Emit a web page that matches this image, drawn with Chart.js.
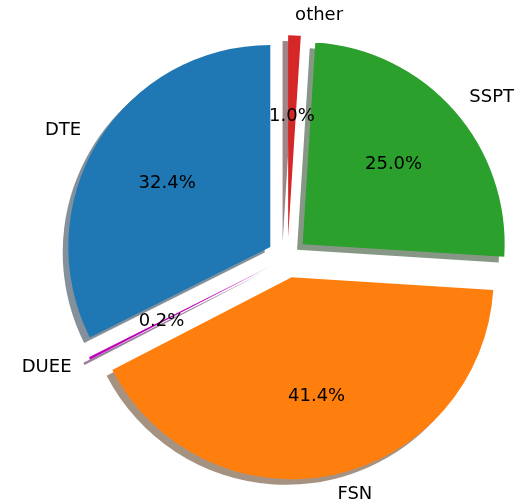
<!DOCTYPE html>
<html>
<head>
<meta charset="utf-8">
<script src="https://cdn.jsdelivr.net/npm/chart.js@4"></script>
<style>
  html, body { margin: 0; padding: 0; background: #ffffff; }
  #wrap { width: 517px; height: 499px; }
</style>
</head>
<body>
<div id="wrap"><canvas id="c" width="517" height="499"></canvas></div>
<script>
// Data in matplotlib (counter-clockwise from top) order
const categories = ['DTE', 'DUEE', 'FSN', 'SSPT', 'other'];
const shares = [32.4, 0.2, 41.4, 25.0, 1.0];
const sliceColors = ['#1f77b4', '#bf00bf', '#ff7f0e', '#2ca02c', '#d62728'];
const explodeFrac = [0.1, 0.1, 0.1, 0.1, 0.1];

// Chart.js draws clockwise, so reverse to keep the same visual arrangement
const cjLabels = categories.slice().reverse();
const cjValues = shares.slice().reverse();
const cjColors = sliceColors.slice().reverse();
const cjExplode = explodeFrac.slice().reverse();

function shadowOf(hex) {
  const r = parseInt(hex.slice(1, 3), 16), g = parseInt(hex.slice(3, 5), 16), b = parseInt(hex.slice(5, 7), 16);
  return 'rgba(' + Math.round(r * 0.3) + ',' + Math.round(g * 0.3) + ',' + Math.round(b * 0.3) + ',0.5)';
}

const FONT = '18px "DejaVu Sans", sans-serif';
const SHADOW_DX = -5.6, SHADOW_DY = 5.6;

const pieDrawPlugin = {
  id: 'pieDraw',
  beforeDatasetsDraw(chart) {
    const ctx = chart.ctx;
    const meta = chart.getDatasetMeta(0);
    // shadows
    meta.data.forEach((arc, i) => {
      const mid = (arc.startAngle + arc.endAngle) / 2;
      const e = cjExplode[i] * arc.outerRadius;
      const cx = arc.x + Math.cos(mid) * e + SHADOW_DX;
      const cy = arc.y + Math.sin(mid) * e + SHADOW_DY;
      ctx.save();
      ctx.beginPath();
      ctx.moveTo(cx, cy);
      ctx.arc(cx, cy, arc.outerRadius, arc.startAngle, arc.endAngle);
      ctx.closePath();
      ctx.fillStyle = shadowOf(cjColors[i]);
      ctx.fill();
      ctx.restore();
    });
    // wedges
    meta.data.forEach((arc, i) => {
      const mid = (arc.startAngle + arc.endAngle) / 2;
      const e = cjExplode[i] * arc.outerRadius;
      ctx.save();
      ctx.translate(Math.cos(mid) * e, Math.sin(mid) * e);
      arc.draw(ctx);
      ctx.restore();
    });
    return false;
  },
  afterDraw(chart) {
    const ctx = chart.ctx;
    const meta = chart.getDatasetMeta(0);
    const total = cjValues.reduce((a, b) => a + b, 0);
    ctx.save();
    ctx.font = FONT;
    ctx.fillStyle = '#000000';
    ctx.textBaseline = 'middle';
    meta.data.forEach((arc, i) => {
      const mid = (arc.startAngle + arc.endAngle) / 2;
      const r = arc.outerRadius;
      const e = cjExplode[i] * r;
      const cx = arc.x + Math.cos(mid) * e;
      const cy = arc.y + Math.sin(mid) * e;
      // category label at 1.1 r
      const lx = cx + Math.cos(mid) * r * 1.1;
      const ly = cy + Math.sin(mid) * r * 1.1;
      ctx.textAlign = (lx - arc.x) > 0 ? 'left' : 'right';
      ctx.fillText(cjLabels[i], lx, ly);
      // percentage at 0.6 r
      const px = cx + Math.cos(mid) * r * 0.6;
      const py = cy + Math.sin(mid) * r * 0.6;
      ctx.textAlign = 'center';
      ctx.fillText((cjValues[i] / total * 100).toFixed(1) + '%', px, py);
    });
    ctx.restore();
  }
};

new Chart(document.getElementById('c'), {
  type: 'pie',
  data: {
    labels: cjLabels,
    datasets: [{
      data: cjValues,
      backgroundColor: cjColors,
      borderWidth: 0,
      hoverOffset: 0
    }]
  },
  options: {
    responsive: false,
    devicePixelRatio: 1,
    animation: false,
    radius: 202,
    rotation: 0,
    layout: { padding: { left: 58, right: 0, top: 16, bottom: 0 } },
    plugins: {
      legend: { display: false },
      tooltip: { enabled: false }
    },
    events: []
  },
  plugins: [pieDrawPlugin]
});
</script>
</body>
</html>
